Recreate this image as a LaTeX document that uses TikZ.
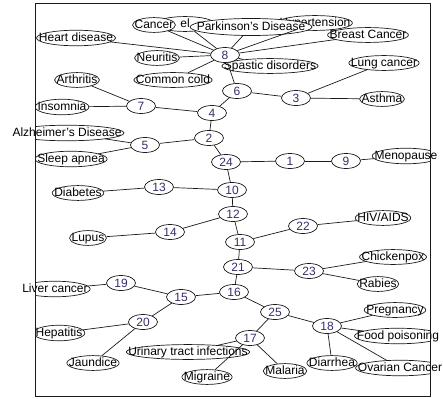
\documentclass[tikz,border=0pt]{standalone}
\usepackage{fontspec}
\setmainfont{Liberation Sans}
\usetikzlibrary{shapes.geometric, calc}

\definecolor{GraphInk}{HTML}{1A1A1A}
\definecolor{NumberInk}{HTML}{3D2B6B}

\tikzset{
    % disease labels: ellipse drawn tight round the text
    disease/.style={
        ellipse,
        draw=GraphInk,
        fill=white,
        line width=0.7pt,
        inner xsep=1.5pt,
        inner ysep=0pt,
        text height=8.5pt,
        text depth=2pt,
        font=\fontsize{12}{14}\selectfont,
        execute at begin node={\setbox0=\hbox\bgroup},
        execute at end node={\egroup\makebox[0.7071\width]{\box0}}
    },
    % labels that run over the frame: outline drawn clipped later
    disease cut/.style={
        disease,
        draw=none
    },
    number/.style={
        ellipse,
        draw=GraphInk,
        fill=white,
        line width=0.7pt,
        inner sep=0pt,
        minimum width=29pt,
        minimum height=15pt,
        text=NumberInk,
        font=\fontsize{12}{14}\selectfont
    },
    link/.style={
        line width=0.7pt,
        GraphInk
    }
}

\begin{document}
\begin{tikzpicture}[x=1pt, y=-1pt]
    \useasboundingbox (0,0) rectangle (443,398);
    \coordinate (frame nw) at (35,3);
    \coordinate (frame se) at (430,396);

    % top cluster round 8
    \node[disease, minimum width=60pt] (hidden) at (185,24) {el};
    \node[disease] (hyper) at (315,23) {Hypertension};
    \node[disease] (cancer) at (154,25) {Cancer};
    \node[disease, minimum width=122pt, minimum height=17pt] (parkinson) at (251,27) {Parkinson's Disease};
    \node[disease] (breast) at (368,35) {Breast Cancer};
    \node[disease cut] (heart) at (76,38) {Heart disease};
    \node[disease] (neuritis) at (157,58) {Neuritis};
    \node[disease] (spastic) at (270,66) {Spastic disorders};
    \node[number] (n8) at (225,55) {8};
    \node[disease] (cold) at (173,80) {Common cold};
    \node[disease] (lung) at (384,63) {Lung cancer};
    \node[number] (n6) at (237,91) {6};
    \node[number] (n3) at (296,98) {3};
    \node[disease] (asthma) at (382,99) {Asthma};
    \node[disease] (arthritis) at (77,80) {Arthritis};
    \node[number] (n7) at (141,106) {7};
    \node[disease cut] (insomnia) at (62,107) {Insomnia};
    \node[number] (n4) at (212,113) {4};

    % middle
    \node[disease cut] (alz) at (67,133) {Alzheimer's Disease};
    \node[number] (n5) at (145,145) {5};
    \node[number] (n2) at (209,138) {2};
    \node[disease cut] (sleep) at (71,159) {Sleep apnea};
    \node[number] (n24) at (226,162) {24};
    \node[number] (n1) at (290,161) {1};
    \node[number] (n9) at (346,161) {9};
    \node[disease cut] (meno) at (406,156) {Menopause};
    \node[number] (n13) at (159,187) {13};
    \node[disease] (diab) at (78,193) {Diabetes};
    \node[number] (n10) at (232,190) {10};
    \node[number] (n12) at (233,214) {12};
    \node[number] (n22) at (303,226) {22};
    \node[disease] (hiv) at (383,218) {HIV/AIDS};
    \node[number] (n14) at (170,232) {14};
    \node[disease] (lupus) at (88,238) {Lupus};
    \node[number] (n11) at (240,242) {11};

    % bottom
    \node[disease] (chicken) at (393,257) {Chickenpox};
    \node[number] (n21) at (238,267) {21};
    \node[number] (n23) at (309,271) {23};
    \node[disease] (rabies) at (378,284) {Rabies};
    \node[number] (n19) at (121,283) {19};
    \node[disease cut] (liver) at (55,289) {Liver cancer};
    \node[number] (n15) at (181,297) {15};
    \node[number] (n16) at (234,292) {16};
    \node[number] (n25) at (275,312) {25};
    \node[disease] (preg) at (395,310) {Pregnancy};
    \node[number] (n20) at (143,322) {20};
    \node[number] (n18) at (327,326) {18};
    \node[disease cut] (food) at (398,336) {Food poisoning};
    \node[disease cut] (hep) at (59,333) {Hepatitis};
    \node[disease] (uti) at (188,352) {Urinary tract infections};
    \node[number] (n17) at (250,338) {17};
    \node[disease] (jaun) at (93,363) {Jaundice};
    \node[disease cut] (ovar) at (400,368) {Ovarian Cancer};
    \node[disease] (diar) at (332,363) {Diarrhea};
    \node[disease] (malaria) at (285,371) {Malaria};
    \node[disease] (migr) at (207,377) {Migraine};

    % outlines cut off at the frame
    \begin{scope}
        \clip (frame nw) rectangle (frame se);
        \draw[link] let \p1=(heart.center), \p2=(heart.east), \p3=(heart.north) in (\p1) ellipse [x radius=\x2-\x1, y radius=\y3-\y1];
        \draw[link] let \p1=(insomnia.center), \p2=(insomnia.east), \p3=(insomnia.north) in (\p1) ellipse [x radius=\x2-\x1, y radius=\y3-\y1];
        \draw[link] let \p1=(alz.center), \p2=(alz.east), \p3=(alz.north) in (\p1) ellipse [x radius=\x2-\x1, y radius=\y3-\y1];
        \draw[link] let \p1=(sleep.center), \p2=(sleep.east), \p3=(sleep.north) in (\p1) ellipse [x radius=\x2-\x1, y radius=\y3-\y1];
        \draw[link] let \p1=(meno.center), \p2=(meno.east), \p3=(meno.north) in (\p1) ellipse [x radius=\x2-\x1, y radius=\y3-\y1];
        \draw[link] let \p1=(liver.center), \p2=(liver.east), \p3=(liver.north) in (\p1) ellipse [x radius=\x2-\x1, y radius=\y3-\y1];
        \draw[link] let \p1=(food.center), \p2=(food.east), \p3=(food.north) in (\p1) ellipse [x radius=\x2-\x1, y radius=\y3-\y1];
        \draw[link] let \p1=(hep.center), \p2=(hep.east), \p3=(hep.north) in (\p1) ellipse [x radius=\x2-\x1, y radius=\y3-\y1];
        \draw[link] let \p1=(ovar.center), \p2=(ovar.east), \p3=(ovar.north) in (\p1) ellipse [x radius=\x2-\x1, y radius=\y3-\y1];
    \end{scope}

    % links
    \draw[link] (n8) -- (heart);
    \draw[link] (n8) -- (cancer);
    \draw[link] (n8) -- (hidden);
    \draw[link] (n8) -- (parkinson);
    \draw[link] (n8) -- (hyper);
    \draw[link] (n8) -- (breast);
    \draw[link] (n8) -- (neuritis);
    \draw[link] (n8) -- (cold);
    \draw[link] (n8) -- (spastic);
    \draw[link] (n8) -- (n6);
    \draw[link] (n6) -- (n4);
    \draw[link] (n6) -- (n3);
    \draw[link] (n3) -- (lung);
    \draw[link] (n3) -- (asthma);
    \draw[link] (n7) -- (arthritis);
    \draw[link] (n7) -- (insomnia);
    \draw[link] (n7) -- (n4);
    \draw[link] (n4) -- (n2);
    \draw[link] (n2) -- (n5);
    \draw[link] (n5) -- (alz);
    \draw[link] (n5) -- (sleep);
    \draw[link] (n2) -- (n24);
    \draw[link] (n24) -- (n1);
    \draw[link] (n1) -- (n9);
    \draw[link] (n9) -- (meno);
    \draw[link] (n24) -- (n10);
    \draw[link] (n10) -- (n13);
    \draw[link] (n13) -- (diab);
    \draw[link] (n10) -- (n12);
    \draw[link] (n12) -- (n14);
    \draw[link] (n14) -- (lupus);
    \draw[link] (n12) -- (n11);
    \draw[link] (n11) -- (n22);
    \draw[link] (n22) -- (hiv);
    \draw[link] (n11) -- (n21);
    \draw[link] (n21) -- (n23);
    \draw[link] (n23) -- (chicken);
    \draw[link] (n23) -- (rabies);
    \draw[link] (n21) -- (n16);
    \draw[link] (n16) -- (n15);
    \draw[link] (n15) -- (n19);
    \draw[link] (n19) -- (liver);
    \draw[link] (n15) -- (n20);
    \draw[link] (n20) -- (hep);
    \draw[link] (n20) -- (jaun);
    \draw[link] (n16) -- (n25);
    \draw[link] (n25) -- (n17);
    \draw[link] (n25) -- (n18);
    \draw[link] (n17) -- (uti);
    \draw[link] (n17) -- (migr);
    \draw[link] (n17) -- (malaria);
    \draw[link] (n18) -- (preg);
    \draw[link] (n18) -- (food);
    \draw[link] (n18) -- (diar);
    \draw[link] (n18) -- (ovar);

    % frame
    \draw[GraphInk, line width=0.8pt] (frame nw) rectangle (frame se);
\end{tikzpicture}
\end{document}
